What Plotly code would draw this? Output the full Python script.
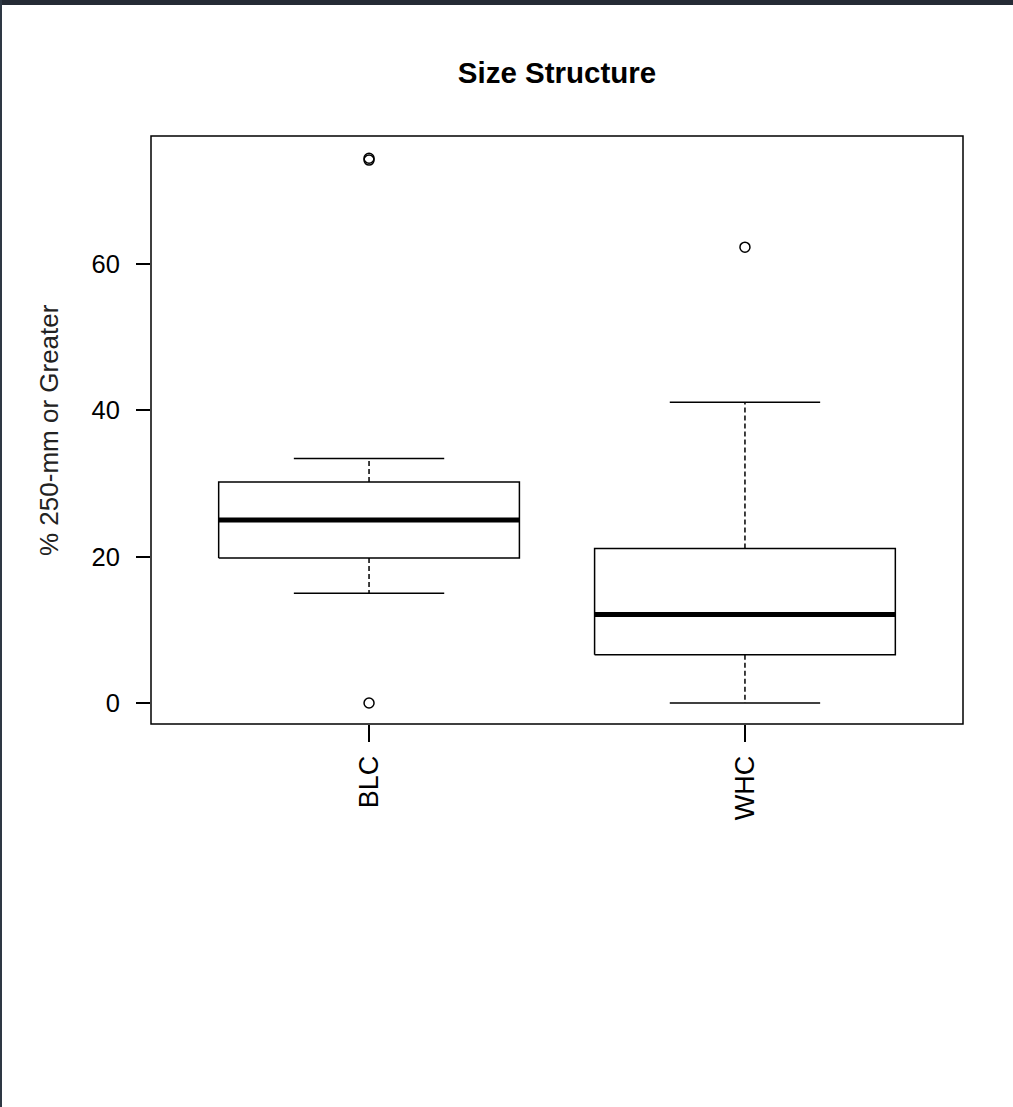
import plotly.graph_objects as go

# ---- data ----
groups = ["BLC", "WHC"]
positions = [1, 2]
q1 = [19.8, 6.6]
medians = [25.0, 12.1]
q3 = [30.2, 21.1]
lower_whisker = [15.0, 0.0]
upper_whisker = [33.4, 41.1]
outliers_blc = [0.0, 74.2, 74.45]
outliers_whc = [62.3]
y_ticks = [0, 20, 40, 60]

# ---- style ----
BOX_HALF = 0.4
STAPLE_HALF = 0.2
FONT = "Liberation Sans, Arial, sans-serif"
LW = 1.5

fig = go.Figure()
outliers = [outliers_blc, outliers_whc]

for i, p in enumerate(positions):
    # box
    fig.add_trace(go.Scatter(
        x=[p - BOX_HALF, p + BOX_HALF, p + BOX_HALF, p - BOX_HALF, p - BOX_HALF],
        y=[q1[i], q1[i], q3[i], q3[i], q1[i]],
        mode="lines", line=dict(color="black", width=LW),
        hoverinfo="skip", showlegend=False))
    # median
    fig.add_trace(go.Scatter(
        x=[p - BOX_HALF, p + BOX_HALF], y=[medians[i], medians[i]],
        mode="lines", line=dict(color="black", width=5),
        hoverinfo="skip", showlegend=False))
    # whiskers (dashed)
    for a, b in [(q3[i], upper_whisker[i]), (q1[i], lower_whisker[i])]:
        fig.add_trace(go.Scatter(
            x=[p, p], y=[a, b], mode="lines",
            line=dict(color="black", width=LW, dash="5px,3px"),
            hoverinfo="skip", showlegend=False))
    # staples
    for w in [upper_whisker[i], lower_whisker[i]]:
        fig.add_trace(go.Scatter(
            x=[p - STAPLE_HALF, p + STAPLE_HALF], y=[w, w], mode="lines",
            line=dict(color="black", width=LW),
            hoverinfo="skip", showlegend=False))
    # outliers
    fig.add_trace(go.Scatter(
        x=[p] * len(outliers[i]), y=outliers[i], mode="markers",
        marker=dict(symbol="circle-open", size=10, color="black",
                    line=dict(width=LW, color="black")),
        showlegend=False))

fig.update_layout(
    width=1013, height=1107, autosize=False,
    margin=dict(l=151, r=50, t=136, b=383, pad=0),
    paper_bgcolor="white", plot_bgcolor="white",
    font=dict(family=FONT, color="black", size=25),
    title=dict(text="<b>Size Structure</b>", x=0.5, xref="paper", xanchor="center",
               y=1 - 73 / 1107, yref="container", yanchor="middle",
               font=dict(family=FONT, size=29.5, color="black")),
    xaxis=dict(range=[0.42, 2.58], tickvals=positions, ticktext=groups,
               tickangle=-90, ticks="outside", ticklen=17, tickwidth=LW,
               tickcolor="black", showgrid=False, zeroline=False, showline=False,
               ticklabelstandoff=3,
               tickfont=dict(size=27, family=FONT, color="black")),
    yaxis=dict(range=[-2.87, 77.49], tickvals=y_ticks, ticks="outside",
               ticklen=14, tickwidth=LW, tickcolor="black", showgrid=False,
               zeroline=False, showline=False, ticklabelstandoff=11,
               tickfont=dict(size=25.5, family=FONT, color="black")),
    showlegend=False,
)

# plot frame
fig.add_shape(type="rect", xref="paper", yref="paper", x0=0, x1=1, y0=0, y1=1,
              line=dict(color="black", width=LW), fillcolor="rgba(0,0,0,0)")

# y-axis title
fig.add_annotation(text="% 250-mm or Greater", xref="paper", yref="paper",
                   x=(49 - 151) / 812, y=0.5, xanchor="center", yanchor="middle",
                   textangle=-90, showarrow=False,
                   font=dict(family=FONT, size=26, color="#222222"))

# window edges seen in the screenshot
fig.add_shape(type="rect", xref="paper", yref="paper",
              x0=-0.2, x1=1.1, y0=(724 - 5) / 588, y1=1.25,
              line=dict(width=0), fillcolor="#252b35", layer="above")
fig.add_shape(type="rect", xref="paper", yref="paper",
              x0=-0.19, x1=(2 - 151) / 812, y0=-0.66, y1=1.25,
              line=dict(width=0), fillcolor="#2e3844", layer="above")

fig.write_html("out.html")
